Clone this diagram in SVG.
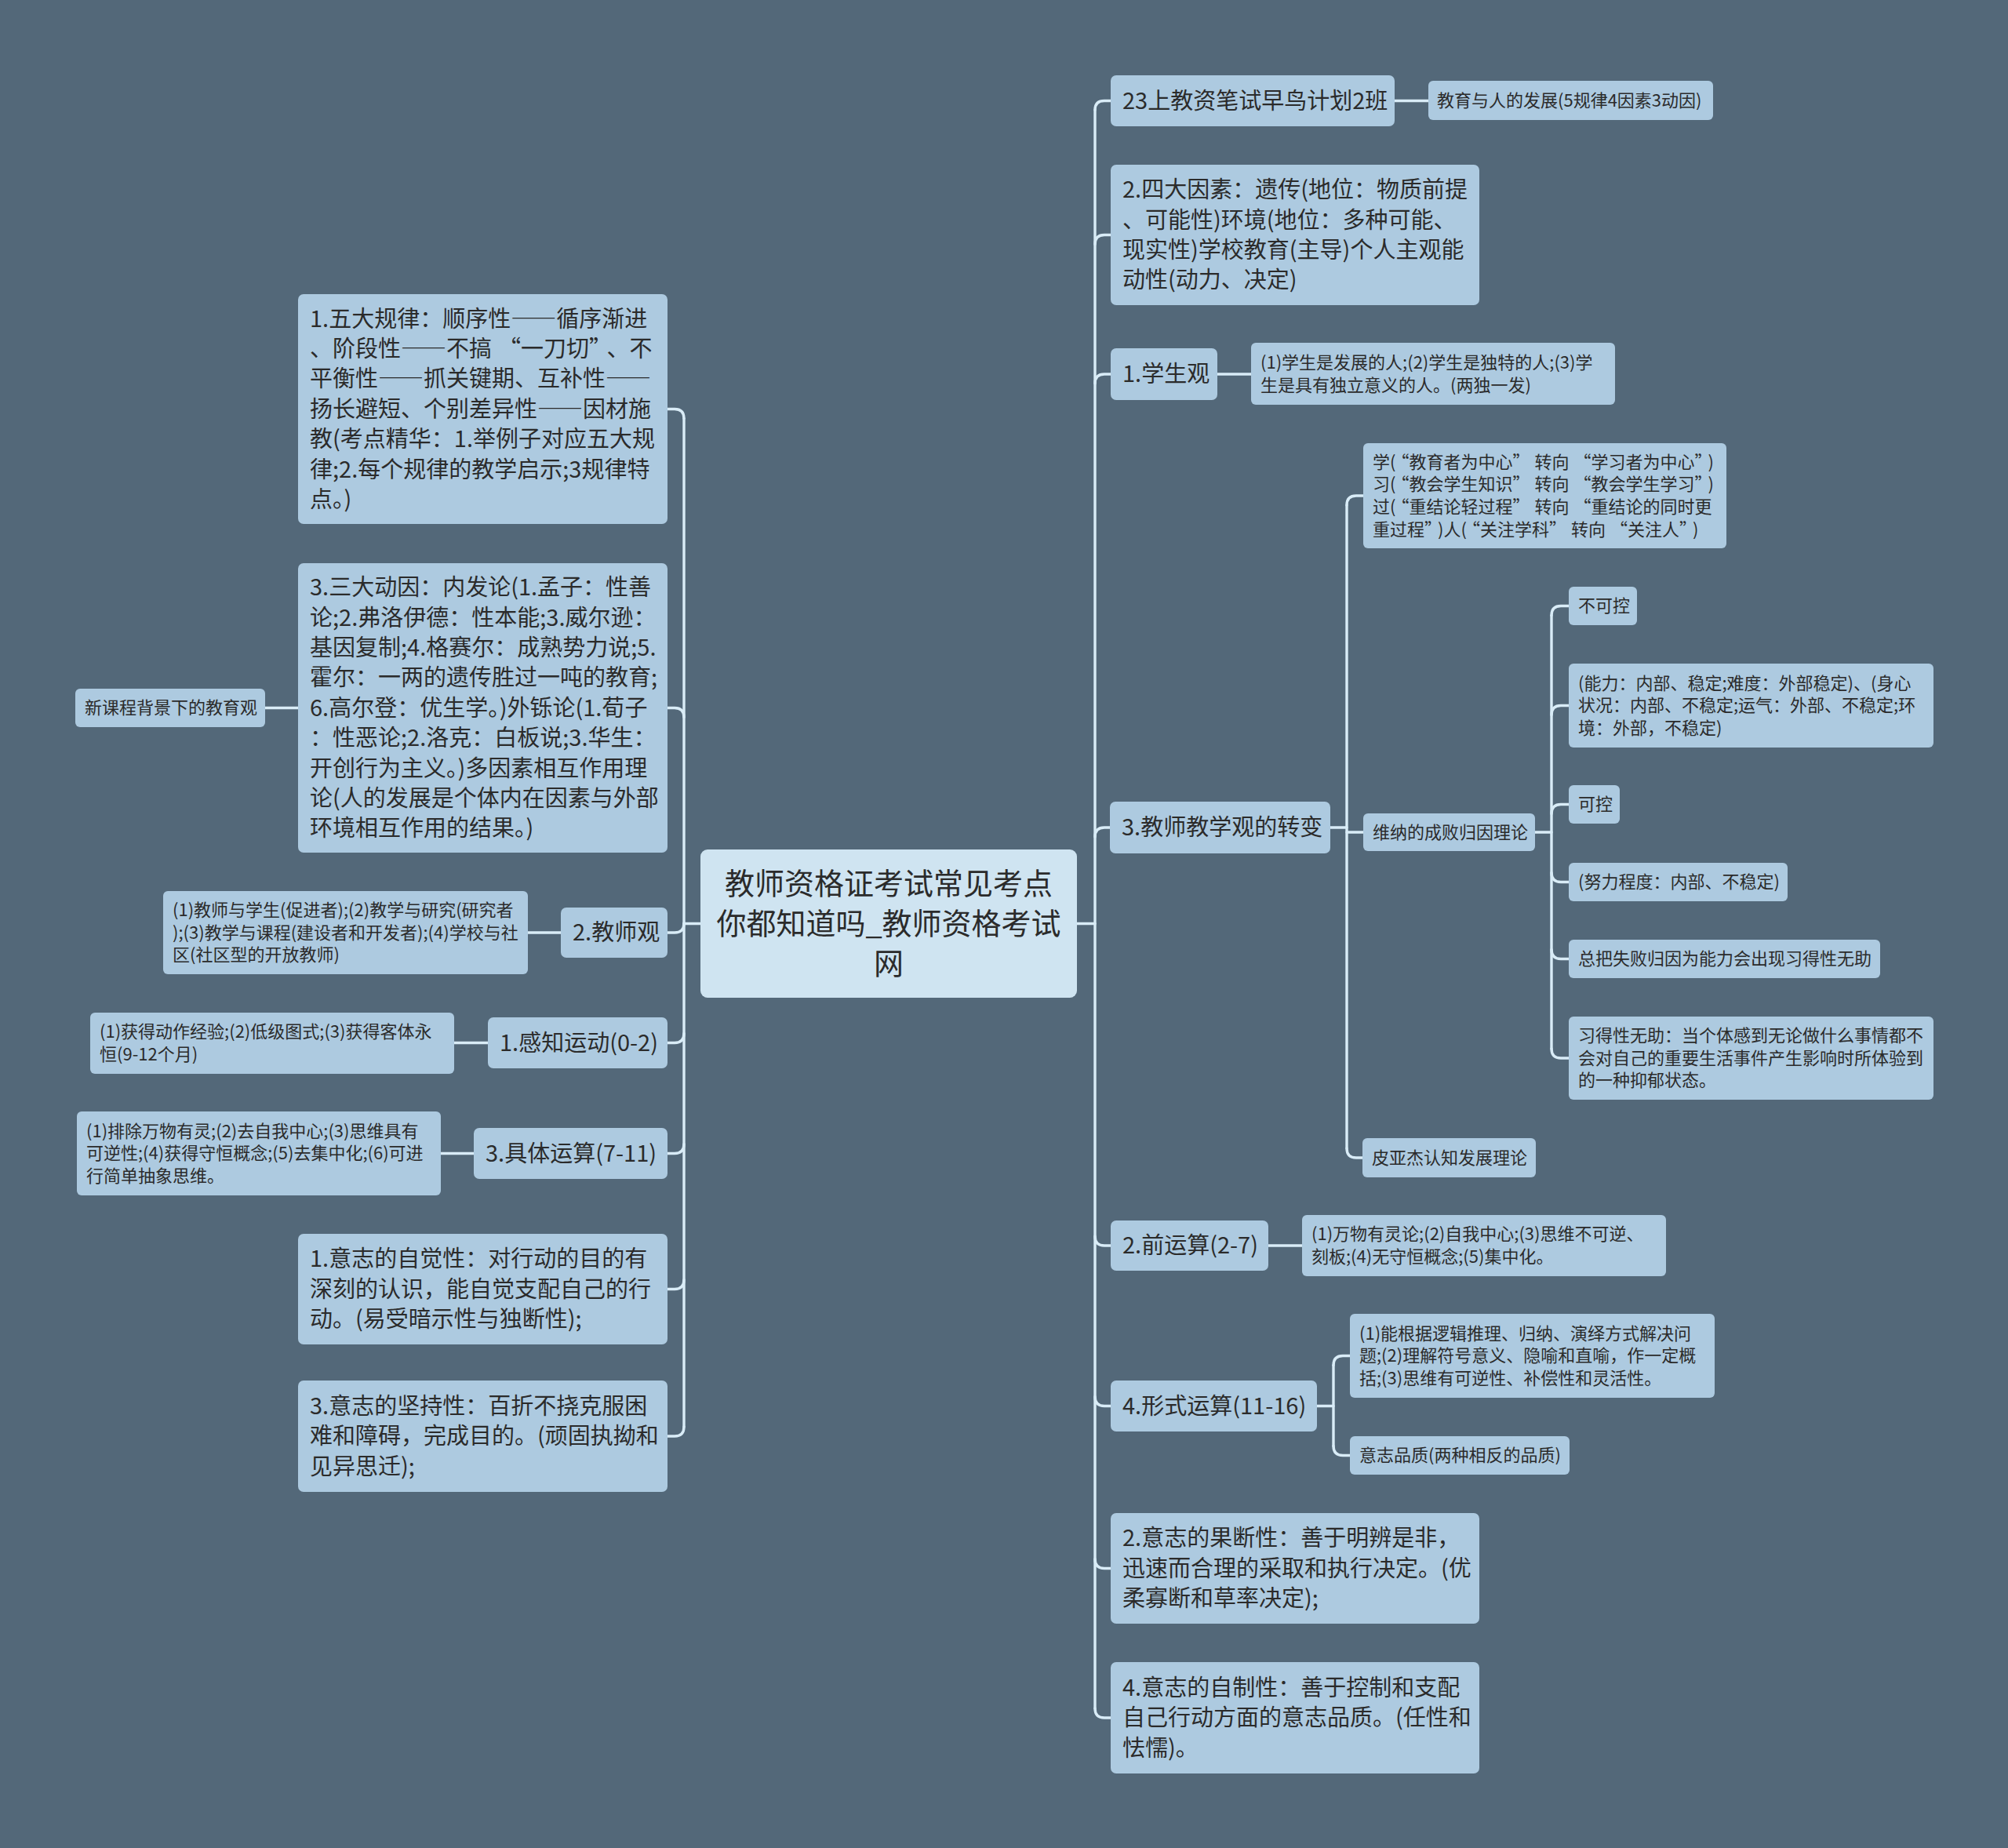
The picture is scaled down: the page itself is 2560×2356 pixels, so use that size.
<svg xmlns="http://www.w3.org/2000/svg" width="2560" height="2356" viewBox="0 0 2560 2356">
<style>
.bg{fill:#536879}
.n{fill:#adcae0}
.root{fill:#cfe4f1}
.t{font-family:"Microsoft YaHei","Noto Sans CJK SC","Noto Sans",sans-serif;fill:#2b2b2b}
.m{font-size:29px}
.s{font-size:22px}
.r{font-size:38px;text-anchor:middle}
.fw{font-feature-settings:"fwid" 1}
.c{fill:none;stroke:#d9ecf7;stroke-width:3.4;stroke-linecap:round}
</style>
<rect class="bg" x="0" y="0" width="2560" height="2356"/>
<g id="connectors">
<path class="c" d="M1373 1177.5H1396"/>
<path class="c" d="M1396 140V2178"/>
<path class="c" d="M1396 140Q1396 128.5 1408 128.5H1416"/>
<path class="c" d="M1396 311.5Q1396 299.5 1408 299.5H1416"/>
<path class="c" d="M1396 489Q1396 477 1408 477H1416"/>
<path class="c" d="M1396 1067Q1396 1055 1408 1055H1415"/>
<path class="c" d="M1396 1576Q1396 1588 1408 1588H1416"/>
<path class="c" d="M1396 1780.5Q1396 1792.5 1408 1792.5H1416"/>
<path class="c" d="M1396 1987.5Q1396 1999.5 1408 1999.5H1416"/>
<path class="c" d="M1396 2178Q1396 2190 1408 2190H1416"/>
<path class="c" d="M1778 128.5H1821"/>
<path class="c" d="M1552 477H1595"/>
<path class="c" d="M1617 1588H1660"/>
<path class="c" d="M1696 1055H1717"/>
<path class="c" d="M1717 644V1464"/>
<path class="c" d="M1717 644Q1717 632 1729 632H1738"/>
<path class="c" d="M1717 1061H1738"/>
<path class="c" d="M1717 1464Q1717 1476 1729 1476H1737"/>
<path class="c" d="M1957 1061H1978"/>
<path class="c" d="M1978 784.5V1337"/>
<path class="c" d="M1978 784.5Q1978 772.5 1990 772.5H2000"/>
<path class="c" d="M1978 911.5Q1978 899.5 1990 899.5H2000"/>
<path class="c" d="M1978 1037.5Q1978 1025.5 1990 1025.5H2000"/>
<path class="c" d="M1978 1112.5Q1978 1124.5 1990 1124.5H2000"/>
<path class="c" d="M1978 1210.5Q1978 1222.5 1990 1222.5H2000"/>
<path class="c" d="M1978 1337Q1978 1349 1990 1349H2000"/>
<path class="c" d="M1679 1792.5H1700"/>
<path class="c" d="M1700 1740.5V1843.5"/>
<path class="c" d="M1700 1740.5Q1700 1728.5 1712 1728.5H1721"/>
<path class="c" d="M1700 1843.5Q1700 1855.5 1712 1855.5H1721"/>
<path class="c" d="M893 1177.5H872"/>
<path class="c" d="M872 533.5V1819"/>
<path class="c" d="M872 533.5Q872 521.5 860 521.5H851"/>
<path class="c" d="M872 914.5Q872 902.5 860 902.5H851"/>
<path class="c" d="M872 1177Q872 1189 860 1189H851"/>
<path class="c" d="M872 1317.5Q872 1329.5 860 1329.5H851"/>
<path class="c" d="M872 1458.5Q872 1470.5 860 1470.5H851"/>
<path class="c" d="M872 1631.5Q872 1643.5 860 1643.5H851"/>
<path class="c" d="M872 1819Q872 1831 860 1831H851"/>
<path class="c" d="M338 902.5H380"/>
<path class="c" d="M673 1189H715"/>
<path class="c" d="M579 1329.5H622"/>
<path class="c" d="M562 1470.5H604"/>
</g>

<g id="root">
<rect class="root" x="893" y="1083" width="480" height="189" rx="9"/>
<text class="t r" x="1133" y="1140">教师资格证考试常见考点</text>
<text class="t r" x="1133" y="1191">你都知道吗_教师资格考试</text>
<text class="t r" x="1133" y="1242">网</text>
</g>

<g id="l1">
<rect class="n" x="380" y="375" width="471" height="293" rx="7"/>
<text class="t m" x="395" y="416.5">1.五大规律：顺序性<tspan class="fw">——</tspan>循序渐进</text>
<text class="t m" x="395" y="454.9">、阶段性<tspan class="fw">——</tspan>不搞<tspan dx="8">“</tspan>一刀切”<tspan dx="8">、不</tspan></text>
<text class="t m" x="395" y="493.3">平衡性<tspan class="fw">——</tspan>抓关键期、互补性<tspan class="fw">——</tspan></text>
<text class="t m" x="395" y="531.7">扬长避短、个别差异性<tspan class="fw">——</tspan>因材施</text>
<text class="t m" x="395" y="570.1">教(考点精华：1.举例子对应五大规</text>
<text class="t m" x="395" y="608.5">律;2.每个规律的教学启示;3规律特</text>
<text class="t m" x="395" y="646.9">点。)</text>
</g>
<g id="l2">
<rect class="n" x="380" y="718" width="471" height="369" rx="7"/>
<text class="t m" x="395" y="759.1">3.三大动因：内发论(1.孟子：性善</text>
<text class="t m" x="395" y="797.5">论;2.弗洛伊德：性本能;3.威尔逊：</text>
<text class="t m" x="395" y="835.9">基因复制;4.格赛尔：成熟势力说;5.</text>
<text class="t m" x="395" y="874.3">霍尔：一两的遗传胜过一吨的教育;</text>
<text class="t m" x="395" y="912.7">6.高尔登：优生学。)外铄论(1.荀子</text>
<text class="t m" x="395" y="951.1">：性恶论;2.洛克：白板说;3.华生：</text>
<text class="t m" x="395" y="989.5">开创行为主义。)多因素相互作用理</text>
<text class="t m" x="395" y="1027.9">论(人的发展是个体内在因素与外部</text>
<text class="t m" x="395" y="1066.3">环境相互作用的结果。)</text>
</g>
<g id="l2a">
<rect class="n" x="96" y="878" width="242" height="49" rx="6"/>
<text class="t s" x="108" y="910.2">新课程背景下的教育观</text>
</g>
<g id="l3">
<rect class="n" x="715" y="1157" width="136" height="64" rx="7"/>
<text class="t m" x="730" y="1199.2">2.教师观</text>
</g>
<g id="l3a">
<rect class="n" x="208" y="1136" width="465" height="106" rx="6"/>
<text class="t s" x="220" y="1168.1">(1)教师与学生(促进者);(2)教学与研究(研究者</text>
<text class="t s" x="220" y="1196.7">);(3)教学与课程(建设者和开发者);(4)学校与社</text>
<text class="t s" x="220" y="1225.3">区(社区型的开放教师)</text>
</g>
<g id="l4">
<rect class="n" x="622" y="1297" width="229" height="65" rx="7"/>
<text class="t m" x="637" y="1339.7">1.感知运动(0-2)</text>
</g>
<g id="l4a">
<rect class="n" x="115" y="1291" width="464" height="78" rx="6"/>
<text class="t s" x="127" y="1323.4">(1)获得动作经验;(2)低级图式;(3)获得客体永</text>
<text class="t s" x="127" y="1352">恒(9-12个月)</text>
</g>
<g id="l5">
<rect class="n" x="604" y="1438" width="247" height="65" rx="7"/>
<text class="t m" x="619" y="1480.7">3.具体运算(7-11)</text>
</g>
<g id="l5a">
<rect class="n" x="98" y="1417" width="464" height="107" rx="6"/>
<text class="t s" x="110" y="1449.6">(1)排除万物有灵;(2)去自我中心;(3)思维具有</text>
<text class="t s" x="110" y="1478.2">可逆性;(4)获得守恒概念;(5)去集中化;(6)可进</text>
<text class="t s" x="110" y="1506.8">行简单抽象思维。</text>
</g>
<g id="l6">
<rect class="n" x="380" y="1573" width="471" height="141" rx="7"/>
<text class="t m" x="395" y="1615.3">1.意志的自觉性：对行动的目的有</text>
<text class="t m" x="395" y="1653.7">深刻的认识，能自觉支配自己的行</text>
<text class="t m" x="395" y="1692.1">动。(易受暗示性与独断性);</text>
</g>
<g id="l7">
<rect class="n" x="380" y="1760" width="471" height="142" rx="7"/>
<text class="t m" x="395" y="1802.8">3.意志的坚持性：百折不挠克服困</text>
<text class="t m" x="395" y="1841.2">难和障碍，完成目的。(顽固执拗和</text>
<text class="t m" x="395" y="1879.6">见异思迁);</text>
</g>

<g id="r1">
<rect class="n" x="1416" y="96" width="362" height="65" rx="7"/>
<text class="t m" x="1431" y="138.7">23上教资笔试早鸟计划2班</text>
</g>
<g id="r1a">
<rect class="n" x="1821" y="103" width="363" height="50" rx="6"/>
<text class="t s" x="1832" y="135.7">教育与人的发展(5规律4因素3动因)</text>
</g>
<g id="r2">
<rect class="n" x="1416" y="210" width="470" height="179" rx="7"/>
<text class="t m" x="1431" y="252.1">2.四大因素：遗传(地位：物质前提</text>
<text class="t m" x="1431" y="290.5">、可能性)环境(地位：多种可能、</text>
<text class="t m" x="1431" y="328.9">现实性)学校教育(主导)个人主观能</text>
<text class="t m" x="1431" y="367.3">动性(动力、决定)</text>
</g>
<g id="r3">
<rect class="n" x="1416" y="444" width="136" height="66" rx="7"/>
<text class="t m" x="1431" y="487.2">1.学生观</text>
</g>
<g id="r3a">
<rect class="n" x="1595" y="437" width="464" height="79" rx="6"/>
<text class="t s" x="1607" y="469.9">(1)学生是发展的人;(2)学生是独特的人;(3)学</text>
<text class="t s" x="1607" y="498.5">生是具有独立意义的人。(两独一发)</text>
</g>
<g id="r4">
<rect class="n" x="1415" y="1022" width="281" height="66" rx="7"/>
<text class="t m" x="1430" y="1065.2">3.教师教学观的转变</text>
</g>
<g id="r4a">
<rect class="n" x="1738" y="565" width="463" height="134" rx="6"/>
<text class="t s" x="1750" y="596.8">学(<tspan dx="6">“</tspan>教育者为中心”<tspan dx="6">转向</tspan><tspan dx="6">“</tspan>学习者为中心”<tspan dx="6">)</tspan></text>
<text class="t s" x="1750" y="625.4">习(<tspan dx="6">“</tspan>教会学生知识”<tspan dx="6">转向</tspan><tspan dx="6">“</tspan>教会学生学习”<tspan dx="6">)</tspan></text>
<text class="t s" x="1750" y="654">过(<tspan dx="6">“</tspan>重结论轻过程”<tspan dx="6">转向</tspan><tspan dx="6">“</tspan>重结论的同时更</text>
<text class="t s" x="1750" y="682.6">重过程”<tspan dx="6">)人(</tspan><tspan dx="6">“</tspan>关注学科”<tspan dx="6">转向</tspan><tspan dx="6">“</tspan>关注人”<tspan dx="6">)</tspan></text>
</g>
<g id="r4b">
<rect class="n" x="1738" y="1037" width="219" height="48" rx="6"/>
<text class="t s" x="1750" y="1068.7">维纳的成败归因理论</text>
</g>
<g id="r4c">
<rect class="n" x="1737" y="1451" width="221" height="50" rx="6"/>
<text class="t s" x="1749" y="1483.5">皮亚杰认知发展理论</text>
</g>
<g id="d1">
<rect class="n" x="2000" y="748" width="87" height="49" rx="6"/>
<text class="t s" x="2012" y="780.2">不可控</text>
</g>
<g id="d2">
<rect class="n" x="2000" y="846" width="465" height="107" rx="6"/>
<text class="t s" x="2012" y="878.6">(能力：内部、稳定;难度：外部稳定)、(身心</text>
<text class="t s" x="2012" y="907.2">状况：内部、不稳定;运气：外部、不稳定;环</text>
<text class="t s" x="2012" y="935.8">境：外部，不稳定)</text>
</g>
<g id="d3">
<rect class="n" x="2000" y="1001" width="65" height="49" rx="6"/>
<text class="t s" x="2012" y="1033.2">可控</text>
</g>
<g id="d4">
<rect class="n" x="2000" y="1100" width="279" height="49" rx="6"/>
<text class="t s" x="2012" y="1132.2">(努力程度：内部、不稳定)</text>
</g>
<g id="d5">
<rect class="n" x="2000" y="1198" width="397" height="49" rx="6"/>
<text class="t s" x="2012" y="1230.2">总把失败归因为能力会出现习得性无助</text>
</g>
<g id="d6">
<rect class="n" x="2000" y="1296" width="465" height="106" rx="6"/>
<text class="t s" x="2012" y="1328.1">习得性无助：当个体感到无论做什么事情都不</text>
<text class="t s" x="2012" y="1356.7">会对自己的重要生活事件产生影响时所体验到</text>
<text class="t s" x="2012" y="1385.3">的一种抑郁状态。</text>
</g>
<g id="r5">
<rect class="n" x="1416" y="1556" width="201" height="64" rx="7"/>
<text class="t m" x="1431" y="1598.2">2.前运算(2-7)</text>
</g>
<g id="r5a">
<rect class="n" x="1660" y="1549" width="464" height="78" rx="6"/>
<text class="t s" x="1672" y="1581.4">(1)万物有灵论;(2)自我中心;(3)思维不可逆、</text>
<text class="t s" x="1672" y="1610">刻板;(4)无守恒概念;(5)集中化。</text>
</g>
<g id="r6">
<rect class="n" x="1416" y="1760" width="263" height="65" rx="7"/>
<text class="t m" x="1431" y="1802.7">4.形式运算(11-16)</text>
</g>
<g id="r6a">
<rect class="n" x="1721" y="1675" width="465" height="107" rx="6"/>
<text class="t s" x="1733" y="1707.6">(1)能根据逻辑推理、归纳、演绎方式解决问</text>
<text class="t s" x="1733" y="1736.2">题;(2)理解符号意义、隐喻和直喻，作一定概</text>
<text class="t s" x="1733" y="1764.8">括;(3)思维有可逆性、补偿性和灵活性。</text>
</g>
<g id="r6b">
<rect class="n" x="1721" y="1831" width="280" height="49" rx="6"/>
<text class="t s" x="1733" y="1863.2">意志品质(两种相反的品质)</text>
</g>
<g id="r7">
<rect class="n" x="1416" y="1929" width="470" height="141" rx="7"/>
<text class="t m" x="1431" y="1971.3">2.意志的果断性：善于明辨是非，</text>
<text class="t m" x="1431" y="2009.7">迅速而合理的采取和执行决定。(优</text>
<text class="t m" x="1431" y="2048.1">柔寡断和草率决定);</text>
</g>
<g id="r8">
<rect class="n" x="1416" y="2119" width="470" height="142" rx="7"/>
<text class="t m" x="1431" y="2161.8">4.意志的自制性：善于控制和支配</text>
<text class="t m" x="1431" y="2200.2">自己行动方面的意志品质。(任性和</text>
<text class="t m" x="1431" y="2238.6">怯懦)。</text>
</g>
</svg>
